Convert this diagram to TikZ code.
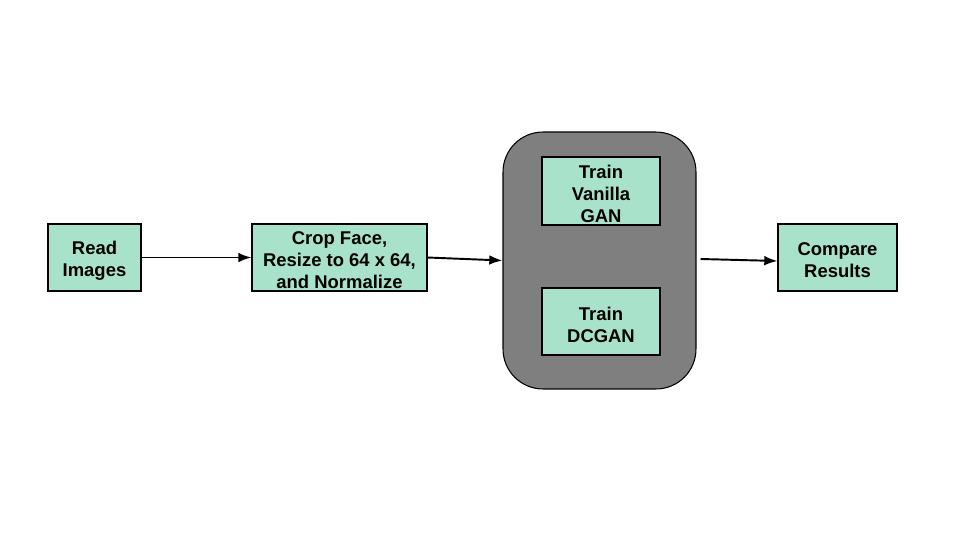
\documentclass[tikz,border=0pt]{standalone}
\usepackage{fontspec}
\setmainfont{Liberation Sans}
\usetikzlibrary{arrows.meta}
\definecolor{mint}{HTML}{A9E2CB}
\definecolor{grp}{HTML}{7F7F7F}
\begin{document}
\begin{tikzpicture}[x=0.02cm,y=-0.02cm,
  box/.style={draw=black,line width=0.6pt,fill=mint,inner sep=0pt},
  lbl/.style={align=center,inner sep=0pt,yshift=-0.06cm,
    font=\fontsize{10.5pt}{12.6pt}\selectfont\bfseries},
  conn/.style={line width=1.1pt,-{Latex[length=7.5pt,width=5.5pt]}}]
\useasboundingbox (0,0) rectangle (960,540);
\node[draw=black,line width=0.6pt,fill=grp,rounded corners=0.8cm,minimum width=3.86cm,minimum height=5.14cm,inner sep=0pt] (grp) at (599.5,260.5) {};
\node[box,minimum width=1.86cm,minimum height=1.34cm,label={[lbl]center:{Read\\Images}}] (read) at (94.5,257.5) {};
\node[box,minimum width=3.5cm,minimum height=1.34cm,label={[lbl]center:{Crop Face,\\Resize to 64 x 64,\\and Normalize}}] (crop) at (339.5,257.5) {};
\node[box,minimum width=2.36cm,minimum height=1.36cm,label={[lbl]center:{Train\\Vanilla\\GAN}}] (van) at (601,191) {};
\node[box,minimum width=2.36cm,minimum height=1.34cm,label={[lbl]center:{Train\\DCGAN}}] (dc) at (601,321.5) {};
\node[box,minimum width=2.38cm,minimum height=1.34cm,label={[lbl]center:{Compare\\Results}}] (cmp) at (837.5,257.5) {};
\draw[conn] (read.east) -- (crop.west);
\draw[conn] (crop.east) -- (grp.west);
\draw[conn] ([xshift=0.08cm,yshift=0.03cm]grp.east) -- ([yshift=-0.07cm]cmp.west);
\end{tikzpicture}
\end{document}
